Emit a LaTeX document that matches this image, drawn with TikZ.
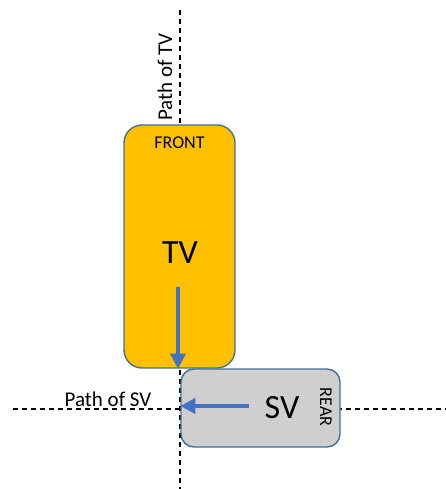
\documentclass[tikz,border=0pt]{standalone}
\usepackage{fontspec}
\setmainfont{Carlito}
\usepackage{tikz}
\usetikzlibrary{arrows.meta, positioning}
\definecolor{tvorange}{HTML}{FFC000}
\definecolor{svgrey}{HTML}{D0CECE}
\definecolor{edgeblue}{HTML}{41719C}
\definecolor{arrowblue}{HTML}{4472C4}
\tikzset{
    vehicle/.style={rectangle, draw=edgeblue, line width=1.4pt, inner sep=0pt},
    pathline/.style={black, line width=1.2pt, dash pattern=on 5pt off 4pt},
    motion/.style={arrowblue, line width=4pt, -{Triangle[length=15pt,width=15pt]}},
    biglabel/.style={font=\fontsize{34}{36}\selectfont},
    sidelabel/.style={font=\fontsize{18}{20}\selectfont, inner sep=0pt},
    pathlabel/.style={font=\fontsize{21}{24}\selectfont, inner sep=0pt}
}

\begin{document}
\begin{tikzpicture}[x=1pt, y=-1pt]
    \useasboundingbox (0,0) rectangle (446,489);
    % Paths
    \coordinate (tvtop) at (180,10);
    \coordinate (tvbottom) at (180,489);
    \coordinate (svleft) at (13,409);
    \coordinate (svright) at (446,409);
    \draw[pathline] (tvtop) -- (tvbottom);
    \draw[pathline] (svleft) -- (svright);

    % Vehicles
    \node[vehicle, fill=tvorange, rounded corners=18pt, minimum width=111pt, minimum height=243pt] (tv) at (179.5,246.5) {};
    \node[vehicle, fill=svgrey, rounded corners=13pt, minimum width=159pt, minimum height=78pt] (sv) at (260.5,408) {};

    % Labels
    \node[sidelabel, below=12pt of tv.north] (front) {FRONT};
    \node[biglabel] (tvname) at (180,253) {TV};
    \node[biglabel] (svname) at (282,408) {SV};
    \node[sidelabel, rotate=-90] (rear) at (326,407) {REAR};
    \node[pathlabel, rotate=90] (tvpath) at (165,77) {Path of TV};
    \node[pathlabel] (svpath) at (108,399) {Path of SV};

    % Motion
    \coordinate (tvtail) at (178,287);
    \coordinate (svtail) at (249,406);
    \draw[motion] (tvtail) -- (tvtail |- tv.south);
    \draw[motion] (svtail) -- (svtail -| sv.west);
\end{tikzpicture}
\end{document}
